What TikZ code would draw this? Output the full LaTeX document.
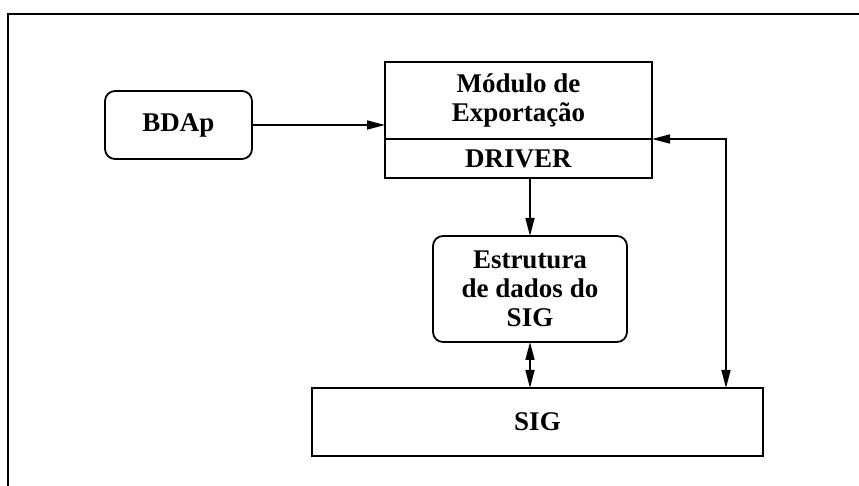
\documentclass[tikz,border=0pt]{standalone}
\usepackage{fontspec}
\setmainfont{Liberation Serif}
\usetikzlibrary{positioning,arrows.meta}
\begin{document}
\begin{tikzpicture}[x=1pt,y=1pt,
    every node/.style={font=\fontsize{13.5}{14.5}\selectfont\bfseries,inner sep=0pt,outer sep=0pt,align=center},
    caixa/.style={draw,line width=.9pt,rectangle},
    redonda/.style={caixa,rounded corners=5pt},
    seta/.style={line width=.8pt,-{Triangle[length=9pt,width=4.5pt]}},
    dupla/.style={line width=.8pt,{Triangle[length=9pt,width=4.5pt]}-{Triangle[length=9pt,width=4.5pt]}}]
    \useasboundingbox (0,0) rectangle (429.5,-243);
    \draw[line width=.9pt] (4,-243)--(4,-7)--(429.5,-7);
    \node[redonda,minimum width=73.5pt,minimum height=34pt] (bdap) at (89.25,-62.5) {BDAp};
    \node[caixa,minimum width=133.5pt,minimum height=38.5pt] (mod) at (259.25,-50.25) {M\'odulo de\\Exporta\c{c}\~ao};
    \node[caixa,minimum width=133.5pt,minimum height=19.5pt,below=0pt of mod] (drv) {DRIVER};
    \node[redonda,minimum width=97pt,minimum height=53pt] (est) at (265,-144.5) {Estrutura\\de dados do\\SIG};
    \node[caixa,minimum width=225.5pt,minimum height=34pt] (sig) at (268.75,-211) {SIG};
    \coordinate (volta) at (363,-69.5);
    \draw[seta] (bdap.east)--(bdap.east -| mod.west);
    \draw[seta] (est.north |- drv.south)--(est.north);
    \draw[dupla] (est.south)--(est.south |- sig.north);
    \draw[dupla] (drv.north east)--(volta)--(volta |- sig.north);
\end{tikzpicture}
\end{document}
